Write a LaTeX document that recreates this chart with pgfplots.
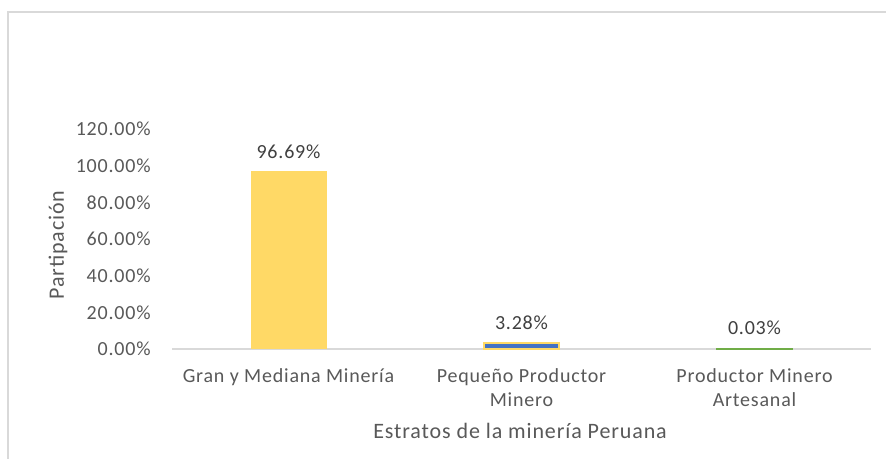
\documentclass[border=0pt]{standalone}
\usepackage{pgfplots}
\pgfplotsset{compat=1.18}
\usepackage{fontspec}
\setmainfont{Carlito}[LetterSpace=4]
\definecolor{txtgray}{HTML}{595959}
\definecolor{lblgray}{HTML}{404040}
\definecolor{axgray}{HTML}{D9D9D9}
\definecolor{bordgray}{HTML}{D9D9D9}
\definecolor{baryel}{HTML}{FFD966}
\definecolor{barblue}{HTML}{4472C4}
\definecolor{bargreen}{HTML}{70AD47}

\begin{document}
\begin{tikzpicture}
% canvas 886x459 px at 0.5pt per px
\path[use as bounding box] (0,0) rectangle (443pt,229.5pt);
\fill[white] (0,0) rectangle (443pt,229.5pt);
\draw[bordgray, line width=0.6pt] (4pt,0) -- (4pt,223.5pt) -- (443pt,223.5pt);

\begin{axis}[
  at={(86pt,55pt)}, anchor=south west,
  scale only axis, width=349.5pt, height=110pt,
  xmin=-0.5, xmax=2.5, ymin=0, ymax=120,
  ytick={0,20,40,60,80,100,120},
  xtick={0,1,2},
  xticklabels={Gran y Mediana Minería, {Pequeño Productor\\Minero}, {Productor Minero\\Artesanal}},
  axis x line=bottom, axis y line=left,
  axis line style={-},
  x axis line style={axgray, line width=0.6pt},
  y axis line style={draw=none},
  major tick length=0pt,
  /pgf/number format/assume math mode=true,
  yticklabel={\pgfmathprintnumber[fixed,fixed zerofill,precision=2]{\tick}\%},
  tick label style={font=\fontsize{10}{12}\selectfont, text=txtgray, inner sep=0pt},
  yticklabel style={xshift=-10.5pt},
  xticklabel style={align=center, yshift=-9.5pt},
  ybar, bar width=37.5pt, bar shift=0pt,
  nodes near coords={\pgfmathprintnumber[fixed,fixed zerofill,precision=2]{\pgfplotspointmeta}\%},
  nodes near coords style={font=\fontsize{10}{12}\selectfont, text=lblgray, anchor=south, inner sep=0pt, yshift=6.5pt},
  clip=false,
]
\addplot[fill=baryel, draw=baryel, line width=0.5pt] coordinates {(0,96.69)};
\addplot[fill=barblue, draw=baryel, line width=0.7pt] coordinates {(1,3.28)};
\addplot[fill=bargreen, draw=bargreen, line width=1pt] coordinates {(2,0.03)};
\end{axis}

\node[rotate=90, text=txtgray, font=\fontsize{11}{13}\selectfont] at (29pt,107pt) {Partipación};
\node[text=txtgray, font=\fontsize{11}{13}\selectfont] at (260pt,14pt) {Estratos de la minería Peruana};
\end{tikzpicture}
\end{document}
